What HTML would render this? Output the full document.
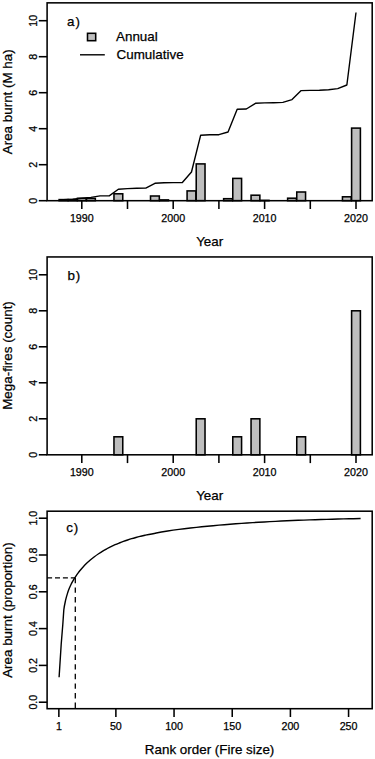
<!DOCTYPE html>
<html><head><meta charset="utf-8"><style>
html,body{margin:0;padding:0;background:#fff;width:375px;height:759px;overflow:hidden}
svg{display:block}
text{font-family:"Liberation Sans", sans-serif;fill:#000;stroke:#000;stroke-width:0.25px}
</style></head><body>
<svg width="375" height="759" viewBox="0 0 375 759">
<rect width="375" height="759" fill="#fff"/>
<line x1="38.8" y1="200.70" x2="47.1" y2="200.70" stroke="#000" stroke-width="1.55"/>
<text transform="translate(36.5 200.70) rotate(-90)" text-anchor="middle" font-size="10.7">0</text>
<line x1="38.8" y1="164.70" x2="47.1" y2="164.70" stroke="#000" stroke-width="1.55"/>
<text transform="translate(36.5 164.70) rotate(-90)" text-anchor="middle" font-size="10.7">2</text>
<line x1="38.8" y1="128.70" x2="47.1" y2="128.70" stroke="#000" stroke-width="1.55"/>
<text transform="translate(36.5 128.70) rotate(-90)" text-anchor="middle" font-size="10.7">4</text>
<line x1="38.8" y1="92.70" x2="47.1" y2="92.70" stroke="#000" stroke-width="1.55"/>
<text transform="translate(36.5 92.70) rotate(-90)" text-anchor="middle" font-size="10.7">6</text>
<line x1="38.8" y1="56.70" x2="47.1" y2="56.70" stroke="#000" stroke-width="1.55"/>
<text transform="translate(36.5 56.70) rotate(-90)" text-anchor="middle" font-size="10.7">8</text>
<line x1="38.8" y1="20.70" x2="47.1" y2="20.70" stroke="#000" stroke-width="1.55"/>
<text transform="translate(36.5 20.70) rotate(-90)" text-anchor="middle" font-size="10.7">10</text>
<line x1="81.80" y1="200.7" x2="81.80" y2="209.00" stroke="#000" stroke-width="1.55"/>
<text x="81.80" y="221.80" text-anchor="middle" font-size="10.7">1990</text>
<line x1="127.50" y1="200.7" x2="127.50" y2="209.00" stroke="#000" stroke-width="1.55"/>
<line x1="173.20" y1="200.7" x2="173.20" y2="209.00" stroke="#000" stroke-width="1.55"/>
<text x="173.20" y="221.80" text-anchor="middle" font-size="10.7">2000</text>
<line x1="218.90" y1="200.7" x2="218.90" y2="209.00" stroke="#000" stroke-width="1.55"/>
<line x1="264.60" y1="200.7" x2="264.60" y2="209.00" stroke="#000" stroke-width="1.55"/>
<text x="264.60" y="221.80" text-anchor="middle" font-size="10.7">2010</text>
<line x1="310.30" y1="200.7" x2="310.30" y2="209.00" stroke="#000" stroke-width="1.55"/>
<line x1="356.00" y1="200.7" x2="356.00" y2="209.00" stroke="#000" stroke-width="1.55"/>
<text x="356.00" y="221.80" text-anchor="middle" font-size="10.7">2020</text>
<text x="209.7" y="245.50" text-anchor="middle" font-size="13.4">Year</text>
<line x1="38.8" y1="454.80" x2="47.1" y2="454.80" stroke="#000" stroke-width="1.55"/>
<text transform="translate(36.5 454.80) rotate(-90)" text-anchor="middle" font-size="10.7">0</text>
<line x1="38.8" y1="418.80" x2="47.1" y2="418.80" stroke="#000" stroke-width="1.55"/>
<text transform="translate(36.5 418.80) rotate(-90)" text-anchor="middle" font-size="10.7">2</text>
<line x1="38.8" y1="382.80" x2="47.1" y2="382.80" stroke="#000" stroke-width="1.55"/>
<text transform="translate(36.5 382.80) rotate(-90)" text-anchor="middle" font-size="10.7">4</text>
<line x1="38.8" y1="346.80" x2="47.1" y2="346.80" stroke="#000" stroke-width="1.55"/>
<text transform="translate(36.5 346.80) rotate(-90)" text-anchor="middle" font-size="10.7">6</text>
<line x1="38.8" y1="310.80" x2="47.1" y2="310.80" stroke="#000" stroke-width="1.55"/>
<text transform="translate(36.5 310.80) rotate(-90)" text-anchor="middle" font-size="10.7">8</text>
<line x1="38.8" y1="274.80" x2="47.1" y2="274.80" stroke="#000" stroke-width="1.55"/>
<text transform="translate(36.5 274.80) rotate(-90)" text-anchor="middle" font-size="10.7">10</text>
<line x1="81.80" y1="454.79999999999995" x2="81.80" y2="463.10" stroke="#000" stroke-width="1.55"/>
<text x="81.80" y="475.90" text-anchor="middle" font-size="10.7">1990</text>
<line x1="127.50" y1="454.79999999999995" x2="127.50" y2="463.10" stroke="#000" stroke-width="1.55"/>
<line x1="173.20" y1="454.79999999999995" x2="173.20" y2="463.10" stroke="#000" stroke-width="1.55"/>
<text x="173.20" y="475.90" text-anchor="middle" font-size="10.7">2000</text>
<line x1="218.90" y1="454.79999999999995" x2="218.90" y2="463.10" stroke="#000" stroke-width="1.55"/>
<line x1="264.60" y1="454.79999999999995" x2="264.60" y2="463.10" stroke="#000" stroke-width="1.55"/>
<text x="264.60" y="475.90" text-anchor="middle" font-size="10.7">2010</text>
<line x1="310.30" y1="454.79999999999995" x2="310.30" y2="463.10" stroke="#000" stroke-width="1.55"/>
<line x1="356.00" y1="454.79999999999995" x2="356.00" y2="463.10" stroke="#000" stroke-width="1.55"/>
<text x="356.00" y="475.90" text-anchor="middle" font-size="10.7">2020</text>
<text x="209.7" y="499.60" text-anchor="middle" font-size="13.4">Year</text>
<rect x="59.12" y="199.60" width="8.8" height="1.10" fill="#bebebe" stroke="#000" stroke-width="1.55"/>
<rect x="68.26" y="199.60" width="8.8" height="1.10" fill="#bebebe" stroke="#000" stroke-width="1.55"/>
<rect x="77.40" y="198.30" width="8.8" height="2.40" fill="#bebebe" stroke="#000" stroke-width="1.55"/>
<rect x="86.54" y="198.40" width="8.8" height="2.30" fill="#bebebe" stroke="#000" stroke-width="1.55"/>
<rect x="113.96" y="193.80" width="8.8" height="6.90" fill="#bebebe" stroke="#000" stroke-width="1.55"/>
<rect x="150.52" y="196.00" width="8.8" height="4.70" fill="#bebebe" stroke="#000" stroke-width="1.55"/>
<rect x="159.66" y="199.90" width="8.8" height="0.80" fill="#bebebe" stroke="#000" stroke-width="1.55"/>
<rect x="187.08" y="190.90" width="8.8" height="9.80" fill="#bebebe" stroke="#000" stroke-width="1.55"/>
<rect x="196.22" y="163.90" width="8.8" height="36.80" fill="#bebebe" stroke="#000" stroke-width="1.55"/>
<rect x="223.64" y="198.70" width="8.8" height="2.00" fill="#bebebe" stroke="#000" stroke-width="1.55"/>
<rect x="232.78" y="178.40" width="8.8" height="22.30" fill="#bebebe" stroke="#000" stroke-width="1.55"/>
<rect x="251.06" y="195.20" width="8.8" height="5.50" fill="#bebebe" stroke="#000" stroke-width="1.55"/>
<rect x="260.20" y="200.35" width="8.8" height="0.35" fill="#bebebe" stroke="#000" stroke-width="1.55"/>
<rect x="287.62" y="198.20" width="8.8" height="2.50" fill="#bebebe" stroke="#000" stroke-width="1.55"/>
<rect x="296.76" y="192.00" width="8.8" height="8.70" fill="#bebebe" stroke="#000" stroke-width="1.55"/>
<rect x="342.46" y="196.80" width="8.8" height="3.90" fill="#bebebe" stroke="#000" stroke-width="1.55"/>
<rect x="351.60" y="128.10" width="8.8" height="72.60" fill="#bebebe" stroke="#000" stroke-width="1.55"/>
<polyline points="63.52,199.80 72.66,199.20 81.80,198.20 90.94,197.40 100.08,195.90 109.22,195.90 118.36,189.20 127.50,188.60 136.64,188.30 145.78,188.10 154.92,183.30 164.06,182.80 173.20,182.60 182.34,182.50 191.48,172.00 200.62,135.30 209.76,134.80 218.90,134.70 228.04,132.00 237.18,109.30 246.32,109.00 255.46,103.30 264.60,102.90 273.74,102.70 282.88,102.40 292.02,99.60 301.16,90.60 310.30,90.40 319.44,90.20 328.58,89.70 337.72,88.60 346.86,85.00 356.00,12.50" fill="none" stroke="#000" stroke-width="1.4" stroke-linejoin="round"/>
<rect x="113.96" y="436.80" width="8.8" height="18.00" fill="#bebebe" stroke="#000" stroke-width="1.55"/>
<rect x="196.22" y="418.80" width="8.8" height="36.00" fill="#bebebe" stroke="#000" stroke-width="1.55"/>
<rect x="232.78" y="436.80" width="8.8" height="18.00" fill="#bebebe" stroke="#000" stroke-width="1.55"/>
<rect x="251.06" y="418.80" width="8.8" height="36.00" fill="#bebebe" stroke="#000" stroke-width="1.55"/>
<rect x="296.76" y="436.80" width="8.8" height="18.00" fill="#bebebe" stroke="#000" stroke-width="1.55"/>
<rect x="351.60" y="310.80" width="8.8" height="144.00" fill="#bebebe" stroke="#000" stroke-width="1.55"/>
<rect x="47.1" y="2.85" width="325.10" height="197.85" fill="none" stroke="#000" stroke-width="1.55"/>
<rect x="47.1" y="256.95" width="325.10" height="197.85" fill="none" stroke="#000" stroke-width="1.55"/>
<text transform="translate(12.0 101.75) rotate(-90)" text-anchor="middle" font-size="13.4">Area burnt (M ha)</text>
<text transform="translate(12.0 355.5) rotate(-90)" text-anchor="middle" font-size="13.4">Mega-fires (count)</text>
<text transform="translate(12.0 610.1) rotate(-90)" text-anchor="middle" font-size="13.4">Area burnt (proportion)</text>
<text x="67.1" y="25.5" font-size="13.4" letter-spacing="1">a)</text>
<rect x="87.5" y="33.3" width="8.2" height="7.4" fill="#bebebe" stroke="#000" stroke-width="1.55"/>
<text x="116" y="41.4" font-size="13.4">Annual</text>
<line x1="80" y1="54.8" x2="104.8" y2="54.8" stroke="#000" stroke-width="1.4"/>
<text x="116.6" y="59.1" font-size="13.4">Cumulative</text>
<text x="67.4" y="279.60" font-size="13.4" letter-spacing="1">b)</text>
<line x1="38.8" y1="702.20" x2="47.1" y2="702.20" stroke="#000" stroke-width="1.55"/>
<text transform="translate(36.5 702.20) rotate(-90)" text-anchor="middle" font-size="10.7">0.0</text>
<line x1="38.8" y1="665.40" x2="47.1" y2="665.40" stroke="#000" stroke-width="1.55"/>
<text transform="translate(36.5 665.40) rotate(-90)" text-anchor="middle" font-size="10.7">0.2</text>
<line x1="38.8" y1="628.60" x2="47.1" y2="628.60" stroke="#000" stroke-width="1.55"/>
<text transform="translate(36.5 628.60) rotate(-90)" text-anchor="middle" font-size="10.7">0.4</text>
<line x1="38.8" y1="591.80" x2="47.1" y2="591.80" stroke="#000" stroke-width="1.55"/>
<text transform="translate(36.5 591.80) rotate(-90)" text-anchor="middle" font-size="10.7">0.6</text>
<line x1="38.8" y1="555.00" x2="47.1" y2="555.00" stroke="#000" stroke-width="1.55"/>
<text transform="translate(36.5 555.00) rotate(-90)" text-anchor="middle" font-size="10.7">0.8</text>
<line x1="38.8" y1="518.20" x2="47.1" y2="518.20" stroke="#000" stroke-width="1.55"/>
<text transform="translate(36.5 518.20) rotate(-90)" text-anchor="middle" font-size="10.7">1.0</text>
<line x1="58.86" y1="708.7" x2="58.86" y2="717.00" stroke="#000" stroke-width="1.55"/>
<text x="58.86" y="729.80" text-anchor="middle" font-size="10.7">1</text>
<line x1="115.88" y1="708.7" x2="115.88" y2="717.00" stroke="#000" stroke-width="1.55"/>
<text x="115.88" y="729.80" text-anchor="middle" font-size="10.7">50</text>
<line x1="174.05" y1="708.7" x2="174.05" y2="717.00" stroke="#000" stroke-width="1.55"/>
<text x="174.05" y="729.80" text-anchor="middle" font-size="10.7">100</text>
<line x1="232.23" y1="708.7" x2="232.23" y2="717.00" stroke="#000" stroke-width="1.55"/>
<text x="232.23" y="729.80" text-anchor="middle" font-size="10.7">150</text>
<line x1="290.40" y1="708.7" x2="290.40" y2="717.00" stroke="#000" stroke-width="1.55"/>
<text x="290.40" y="729.80" text-anchor="middle" font-size="10.7">200</text>
<line x1="348.57" y1="708.7" x2="348.57" y2="717.00" stroke="#000" stroke-width="1.55"/>
<text x="348.57" y="729.80" text-anchor="middle" font-size="10.7">250</text>
<text x="209.6" y="754.3" text-anchor="middle" font-size="13.4">Rank order (Fire size)</text>
<text x="66.2" y="532.2" font-size="13.4" letter-spacing="0.9">c)</text>
<path d="M59.10,677.30 L61.20,644.20 L62.80,624.50 L63.80,609.99 C64.27,605.94 65.00,602.95 65.60,600.22 C66.20,597.49 66.80,595.53 67.40,593.59 C68.00,591.65 68.60,590.11 69.20,588.60 C69.80,587.09 70.40,585.80 71.00,584.55 C71.60,583.30 72.20,582.18 72.80,581.09 C73.40,580.00 74.00,579.00 74.60,578.04 C75.20,577.08 75.80,576.18 76.40,575.31 C77.00,574.44 77.60,573.62 78.20,572.83 C78.80,572.04 79.37,571.33 80.00,570.56 C80.63,569.79 80.98,569.34 82.00,568.22 C83.02,567.11 84.72,565.23 86.10,563.87 C87.48,562.51 88.92,561.26 90.30,560.07 C91.68,558.88 93.02,557.77 94.40,556.72 C95.78,555.67 97.22,554.68 98.60,553.75 C99.98,552.82 101.32,551.94 102.70,551.11 C104.08,550.28 105.52,549.50 106.90,548.75 C108.28,548.00 109.63,547.30 111.00,546.63 C112.37,545.96 113.72,545.33 115.10,544.72 C116.48,544.11 117.92,543.54 119.30,542.99 C120.68,542.44 122.02,541.92 123.40,541.42 C124.78,540.92 126.22,540.44 127.60,539.99 C128.98,539.54 130.32,539.11 131.70,538.70 C133.08,538.29 134.52,537.89 135.90,537.51 C137.28,537.13 138.48,536.81 140.00,536.43 C141.52,536.05 142.28,535.83 145.00,535.25 C147.72,534.67 152.52,533.64 156.30,532.94 C160.08,532.24 163.92,531.62 167.70,531.03 C171.48,530.44 175.22,529.91 179.00,529.41 C182.78,528.91 186.62,528.45 190.40,528.01 C194.18,527.57 197.92,527.17 201.70,526.78 C205.48,526.39 209.32,526.03 213.10,525.68 C216.88,525.33 220.62,524.99 224.40,524.68 C228.18,524.37 232.02,524.07 235.80,523.79 C239.58,523.51 243.32,523.25 247.10,523.00 C250.88,522.75 254.72,522.51 258.50,522.28 C262.28,522.05 266.02,521.84 269.80,521.64 C273.58,521.44 277.42,521.25 281.20,521.07 C284.98,520.89 288.72,520.72 292.50,520.56 C296.28,520.40 300.12,520.24 303.90,520.10 C307.68,519.96 311.42,519.83 315.20,519.70 C318.98,519.58 322.82,519.46 326.60,519.35 C330.38,519.24 334.12,519.14 337.90,519.04 C341.68,518.94 345.52,518.85 349.30,518.77 C353.08,518.69 358.72,518.58 360.60,518.54" fill="none" stroke="#000" stroke-width="1.4" stroke-linejoin="round"/>
<line x1="47.1" y1="577.8" x2="75.3" y2="577.8" stroke="#000" stroke-width="1.3" stroke-dasharray="5 2.9"/>
<line x1="75.3" y1="577.8" x2="75.3" y2="708.7" stroke="#000" stroke-width="1.3" stroke-dasharray="5.4 4.2"/>
<rect x="47.1" y="511.2" width="325.10" height="197.50" fill="none" stroke="#000" stroke-width="1.55"/>
</svg>
</body></html>
